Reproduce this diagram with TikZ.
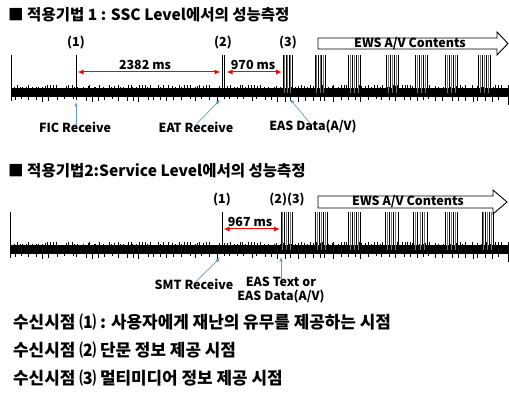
\documentclass[tikz,border=0pt]{standalone}
\usepackage{fontspec}
\setmainfont{Noto Sans CJK KR}
\usetikzlibrary{arrows.meta}
\definecolor{ptrblue}{RGB}{91,155,213}
\definecolor{measred}{RGB}{255,0,0}
\tikzset{
  spike/.style={line width=1pt, black},
  band/.style={fill=black, draw=none},
  tick/.style={line width=0.5pt, black},
  meas/.style={measred, line width=1pt, {Latex[length=6pt,width=5pt]}-{Latex[length=6pt,width=5pt]}},
  pointer/.style={ptrblue, line width=0.7pt, -{Latex[length=4.5pt,width=3.5pt]}},
  lbl/.style={font=\bfseries\fontsize{12.5}{14}\selectfont, inner sep=0pt},
  ttl/.style={font=\bfseries\fontsize{15.5}{18}\selectfont, inner sep=0pt, anchor=west},
  note/.style={font=\bfseries\fontsize{16.9}{19}\selectfont, inner sep=0pt, anchor=west},
  bigarrow/.style={draw=black, fill=white, line width=0.9pt, line join=miter},
}
\newcommand{\drawcluster}[4]{% x1, x2, ytop, ybottom
  \foreach \k in {0,...,6}{
    \pgfmathsetmacro{\cx}{#1+\k*(#2-#1)/6}
    \pgfmathtruncatemacro{\clpar}{mod(\k,2)}
    \ifnum\clpar=0
      \draw[line width=0.9pt, black] (\cx,#3) -- (\cx,#4);
    \else
      \draw[line width=0.9pt, black!55] (\cx,#3) -- (\cx,#4);
    \fi
  }%
}
\newcommand{\drawsignal}[1]{% #1 = band centre y
  \fill[band] (11,#1-4.5) rectangle (508,#1+4.5);
  \pgfmathsetseed{17}
  \foreach \i in {0,...,160}{
    \pgfmathsetmacro{\xx}{13+\i*3.05+rnd*2}
    \pgfmathsetmacro{\hh}{0.8+rnd*3.2}
    \draw[tick] (\xx,#1-4.5) -- ++(0,-\hh);
  }
  \foreach \i in {0,...,70}{
    \pgfmathsetmacro{\xx}{14+\i*6.9+rnd*4}
    \pgfmathsetmacro{\hh}{1+rnd*3.5}
    \draw[tick] (\xx,#1+4.5) -- ++(0,\hh);
  }
}
\begin{document}
\begin{tikzpicture}[x=1pt,y=-1pt]
\useasboundingbox (0,0) rectangle (509,398);

% ===================== Panel 1 =====================
\node[ttl] (title1) at (8,15) {■ 적용기법 1 : SSC Level에서의 성능측정};

\drawsignal{93}
\draw[line width=0.8pt] (11,55) -- (11,101);
\draw[line width=0.8pt] (508,85) -- (508,105);

% spikes
\coordinate (a1top) at (76,55);
\coordinate (a1bot) at (76,93);
\draw[spike] (a1top) -- (a1bot);
\coordinate (a2top) at (222,55);
\coordinate (a2bot) at (222,93);
\draw[spike] (a2top) -- (a2bot);
\draw[spike] (224.5,55) -- (224.5,93);
\drawcluster{283}{292}{55}{93}

\node[lbl] (p1a) at (76,43) {(1)};
\node[lbl] (p2a) at (223,43) {(2)};
\node[lbl] (p3a) at (288,43) {(3)};

% measurements
\coordinate (m1l) at (77.5,72);
\coordinate (m1r) at (220.5,72);
\draw[meas] (m1l) -- (m1r);
\node[lbl] (t2382) at (145,65) {2382 ms};
\coordinate (m2l) at (226.5,72);
\coordinate (m2r) at (282,72);
\draw[meas] (m2l) -- (m2r);
\node[lbl] (t970) at (253,65) {970 ms};

% contents arrow
\draw[bigarrow] (318,38) -- (497,38) -- (497,32) -- (508,43.5) -- (497,55) -- (497,49) -- (318,49) -- cycle;
\node[lbl] (ews1) at (410,43.5) {EWS A/V Contents};

\drawcluster{315}{325}{55}{93}
\drawcluster{348}{360}{55}{93}
\drawcluster{386}{398}{55}{93}
\drawcluster{415}{427}{55}{93}
\drawcluster{445}{457}{55}{93}
\drawcluster{478}{490}{55}{93}

% labels below
\node[lbl] (fic) at (75,127) {FIC Receive};
\coordinate (ficpt) at (76,102);
\draw[pointer] ([xshift=1pt,yshift=-3pt]fic.north) -- (ficpt);
\node[lbl] (eat) at (196,127) {EAT Receive};
\coordinate (eatpt) at (220,100);
\draw[pointer] ([yshift=-3pt]eat.north) -- (eatpt);
\node[lbl] (easd) at (313,127) {EAS Data(A/V)};
\coordinate (easdpt) at (290,99);
\draw[pointer] ([xshift=-2pt,yshift=-4pt]easd.north) -- (easdpt);

% ===================== Panel 2 =====================
\node[ttl] (title2) at (8,171) {■ 적용기법2:Service Level에서의 성능측정};

\drawsignal{250}
\draw[line width=0.8pt] (10,212) -- (10,258);
\draw[line width=0.8pt] (508,242) -- (508,262);

\coordinate (b1top) at (222,212);
\coordinate (b1bot) at (222,250);
\draw[spike] (b1top) -- (b1bot);
\drawcluster{281}{292}{212}{250}

\node[lbl] (p1b) at (222,200) {(1)};
\node[lbl] (p23b) at (287,200) {(2)(3)};

\coordinate (m3l) at (223.5,229);
\coordinate (m3r) at (280,229);
\draw[meas] (m3l) -- (m3r);
\node[lbl] (t967) at (250,222) {967 ms};

\draw[bigarrow] (318,196) -- (493,196) -- (493,190) -- (507,202) -- (493,214) -- (493,208) -- (318,208) -- cycle;
\node[lbl] (ews2) at (408,202) {EWS A/V Contents};

\drawcluster{315}{327}{212}{250}
\drawcluster{348}{360}{212}{250}
\drawcluster{385}{398}{212}{250}
\drawcluster{413}{427}{212}{250}
\drawcluster{445}{457}{212}{250}
\drawcluster{482}{493}{212}{250}

\node[lbl] (smt) at (194,284) {SMT Receive};
\coordinate (smtpt) at (220,258);
\draw[pointer] ([xshift=2pt,yshift=-3pt]smt.north) -- (smtpt);
\node[lbl, align=center] (eastx) at (281,290) {EAS Text or\\EAS Data(A/V)};
\coordinate (eastxpt) at (281,257);
\draw[pointer] ([yshift=-2pt]eastx.north) -- (eastxpt);

% ===================== Notes =====================
\node[note] (n1) at (13,322) {수신시점 ⑴ : 사용자에게 재난의 유무를 제공하는 시점};
\node[note] (n2) at (13,350) {수신시점 ⑵ 단문 정보 제공 시점};
\node[note] (n3) at (13,378) {수신시점 ⑶ 멀티미디어 정보 제공 시점};
\end{tikzpicture}
\end{document}
